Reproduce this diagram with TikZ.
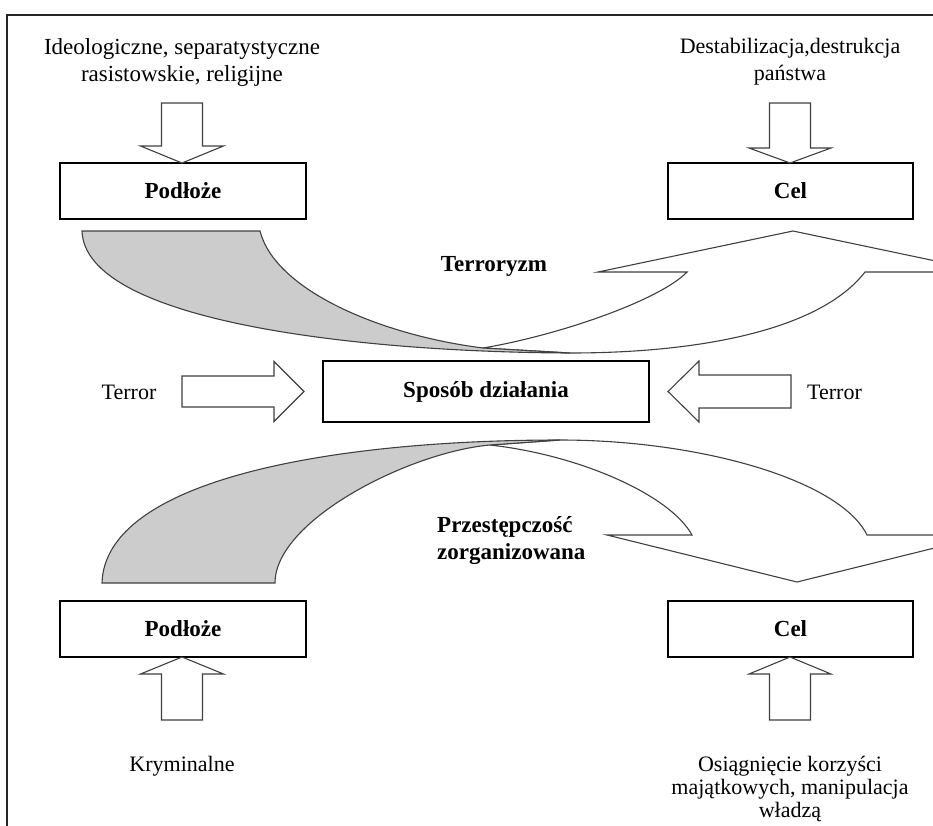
\documentclass[tikz,border=0pt]{standalone}
\usepackage{fontspec}
\setmainfont{Liberation Serif}
\begin{document}
\begin{tikzpicture}[x=1pt,y=1pt,
  frameline/.style={draw=black!85, line width=1.4pt},
  box/.style={draw=black, line width=2.4pt, minimum width=246pt, minimum height=56pt, inner sep=0pt, font=\fontsize{23}{27}\selectfont\bfseries},
  arrowline/.style={draw=black!75, line width=1.1pt, fill=white, line join=miter},
  bandline/.style={draw=black!75, line width=1.1pt},
  txt/.style={font=\fontsize{22}{27}\selectfont, align=center, inner sep=0pt},
  lbl/.style={font=\fontsize{23}{27}\selectfont\bfseries, inner sep=0pt},
  pics/blkarrow/.style n args={4}{code={
    \draw[arrowline] (0,0) -- (-#1,#2) -- (-#1,#3) -- (-#4,#3) -- (-#4,-#3) -- (-#1,-#3) -- (-#1,-#2) -- cycle;}}
]
\useasboundingbox (0,0) rectangle (933,-825);
\clip (0,0) rectangle (933,-825);

% frame
\draw[frameline] (7,-826) -- (7,-15) -- (934,-15);

% top texts
\node[txt, font=\fontsize{23}{27}\selectfont] (srcTop) at (182,-62) {Ideologiczne, separatystyczne\\rasistowskie, religijne};
\node[txt] (goalTop) at (790,-62) {Destabilizacja,destrukcja\\państwa};

% top boxes
\node[box] (podTop) at (183,-191) {Podłoże};
\node[box, minimum width=245pt] (celTop) at (790.5,-191) {Cel};

% top vertical block arrows
\pic[rotate=-90] at (182,-163) {blkarrow={17}{41.5}{20.5}{60}};
\pic[rotate=-90] at (790,-163) {blkarrow={15}{41}{20.5}{60}};

% middle
\node[box, minimum width=326pt, minimum height=61pt] (mid) at (486,-391.5) {Sposób działania};
\node[txt] (terL) at (129,-392) {Terror};
\node[txt, anchor=west] (terR) at (807,-392) {Terror};
\pic at (304,-391.5) {blkarrow={30}{30}{15.5}{122}};
\pic[rotate=180] at (668,-391.5) {blkarrow={31}{30.5}{16.5}{123}};

% top curved arrow (Terroryzm)
\path[bandline, fill=white]
  (483,-348) .. controls (560,-335) and (660,-300) .. (687,-272)
  -- (598,-272) -- (793,-231) -- (988,-272) -- (865,-272)
  .. controls (820,-330) and (700,-353) .. (570,-353) -- cycle;
\path[bandline, fill=black!20]
  (82,-231) -- (260,-231) .. controls (275,-290) and (380,-335) .. (483,-348)
  -- (570,-353) .. controls (350,-352) and (85,-320) .. (82,-231) -- cycle;
\node[lbl] (terrorism) at (494,-266) {Terroryzm};

% bottom curved arrow (Przestepczosc zorganizowana)
\path[bandline, fill=white]
  (490,-445) .. controls (580,-455) and (670,-495) .. (692,-535)
  -- (607,-535) -- (797,-582) -- (987,-535) -- (867,-535)
  .. controls (840,-480) and (700,-440) .. (560,-440) -- cycle;
\path[bandline, fill=black!20]
  (102,-583) -- (275,-583) .. controls (275,-520) and (410,-452) .. (490,-445)
  -- (560,-440) .. controls (330,-440) and (105,-480) .. (102,-583) -- cycle;
\node[lbl, align=left, anchor=west] (crime) at (437,-541) {Przestępczość\\zorganizowana};

% bottom boxes
\node[box] (podBot) at (183,-629) {Podłoże};
\node[box, minimum width=245pt] (celBot) at (790.5,-629) {Cel};

% bottom vertical block arrows
\pic[rotate=90] at (182,-657) {blkarrow={17}{41.5}{20.5}{63}};
\pic[rotate=90] at (790,-657) {blkarrow={17}{41}{20.5}{63}};

% bottom texts
\node[txt] (srcBot) at (182,-766) {Kryminalne};
\node[txt, font=\fontsize{22}{23.5}\selectfont] (goalBot) at (790,-789) {Osiągnięcie korzyści\\majątkowych, manipulacja\\władzą};
\end{tikzpicture}
\end{document}
